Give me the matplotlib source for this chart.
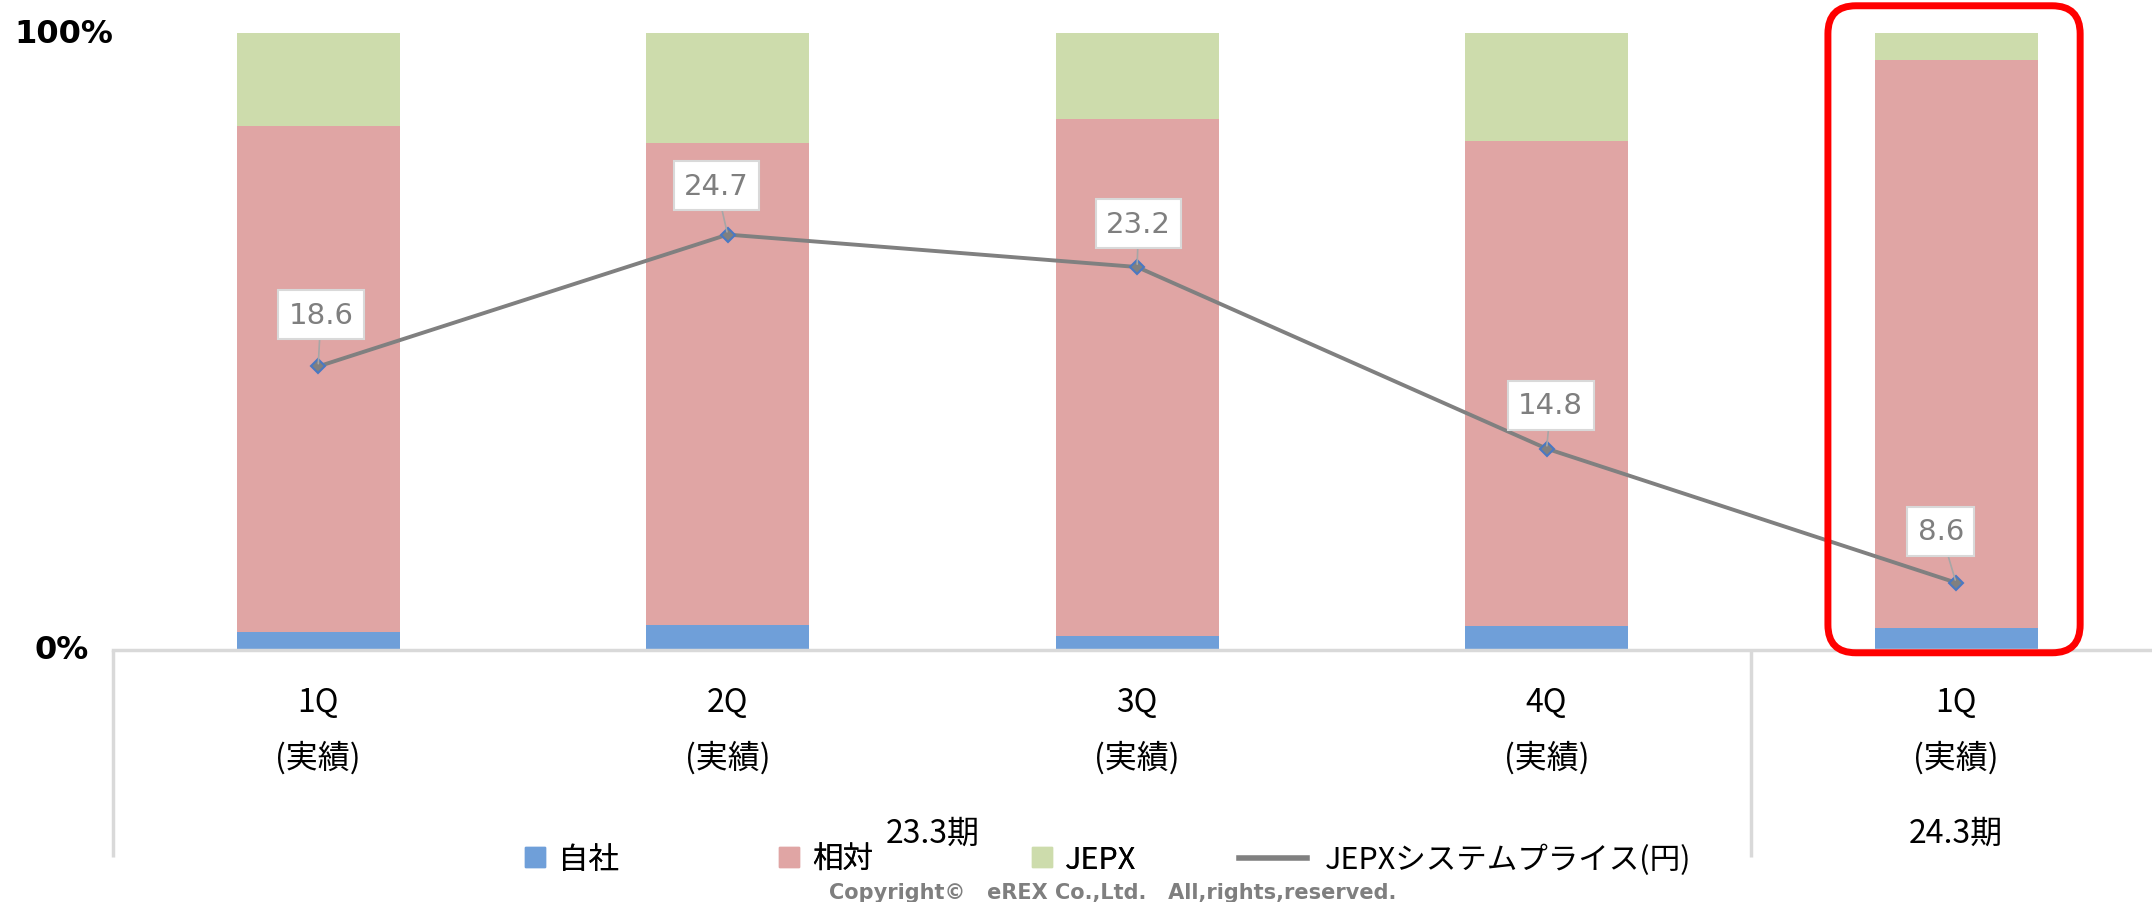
import matplotlib

matplotlib.use("Agg")
import matplotlib.pyplot as plt
import matplotlib.transforms as mtransforms
from matplotlib.lines import Line2D
from matplotlib.patches import FancyBboxPatch

plt.rcParams["font.family"] = ["Noto Sans CJK JP", "DejaVu Sans"]

# data
QUARTERS = ["1Q", "2Q", "3Q", "4Q", "1Q"]
RESULT_NOTE = ["(実績)", "(実績)", "(実績)", "(実績)", "(実績)"]
PERIODS = ["23.3期", "24.3期"]
PERIOD_SPANS = [(0, 3), (4, 4)]  # first / last quarter index of each period
SERIES_NAMES = ["自社", "相対", "JEPX"]
OWN = [0.029, 0.040, 0.022, 0.038, 0.036]
BILATERAL = [0.821, 0.783, 0.839, 0.788, 0.921]
JEPX = [0.150, 0.177, 0.139, 0.174, 0.043]
PRICE_NAME = "JEPXシステムプライス(円)"
JEPX_PRICE = [18.6, 24.7, 23.2, 14.8, 8.6]
Y_TICKS = [0.0, 1.0]
Y_LABELS = ["0%", "100%"]

# styling
COLORS = ["#6f9fd9", "#e0a5a4", "#cddcac"]
LINE_COLOR = "#808080"
AXIS_GRAY = "#d9d9d9"
LABEL_OFFSETS = [(2, 27), (-8, 25), (1, 21), (3, 21), (-11, 27)]  # points
Y_LABEL_PAD = [0.012, 0.0]  # axes fraction left of the axis

W, H, DPI = 2152, 903, 100
fig = plt.figure(figsize=(W / DPI, H / DPI), dpi=DPI)
ax = fig.add_axes([0.0527, 0.2794, 0.9514, 0.6824])

x = list(range(len(QUARTERS)))
bottom = [0.0] * len(x)
for vals, color, name in zip([OWN, BILATERAL, JEPX], COLORS, SERIES_NAMES):
  ax.bar(x, vals, width=0.398, bottom=bottom, color=color, label=name, zorder=2)
  bottom = [b0 + v for b0, v in zip(bottom, vals)]

ax.set_xlim(-0.5, 4.5)
ax.set_ylim(0, 1)
ax.set_xticks([])
ax.set_yticks([])
for s in ["top", "right", "left"]:
  ax.spines[s].set_visible(False)
ax.spines["bottom"].set_color(AXIS_GRAY)
ax.spines["bottom"].set_linewidth(2.5)

for yt, lab, pad in zip(Y_TICKS, Y_LABELS, Y_LABEL_PAD):
  ax.text(-pad, yt, lab, transform=ax.transAxes, ha="right", va="center",
          fontsize=23, fontweight="bold", family="DejaVu Sans")

# multi-level category axis
xtrans = mtransforms.blended_transform_factory(ax.transData, ax.transAxes)
for xi, q, note in zip(x, QUARTERS, RESULT_NOTE):
  ax.text(xi, -0.085, q, transform=xtrans, ha="center", va="center", fontsize=23)
  ax.text(xi, -0.174, note, transform=xtrans, ha="center", va="center", fontsize=23)
for name, (a, b) in zip(PERIODS, PERIOD_SPANS):
  ax.text((a + b) / 2, -0.2975, name, transform=xtrans, ha="center", va="center", fontsize=23)
  ax.plot([a - 0.5, a - 0.5], [0, -0.336], transform=xtrans, color=AXIS_GRAY,
          lw=2.5, clip_on=False, solid_capstyle="butt")

# price line on a hidden secondary axis
ax2 = ax.twinx()
ax2.set_ylim(5.5, 34.0)
ax2.axis("off")
ax2.plot(x, JEPX_PRICE, color=LINE_COLOR, lw=2.8, marker="D", markersize=7,
         markerfacecolor=LINE_COLOR, markeredgecolor="#4a78c2", markeredgewidth=1.5,
         label=PRICE_NAME, zorder=3)
for xi, v, off in zip(x, JEPX_PRICE, LABEL_OFFSETS):
  ax2.annotate(f"{v:.1f}", (xi, v), xytext=off, textcoords="offset points",
               ha="center", va="bottom", fontsize=21, color="#7f7f7f", family="DejaVu Sans",
               bbox=dict(boxstyle="square,pad=0.36", fc="white", ec=AXIS_GRAY, lw=1.5),
               arrowprops=dict(arrowstyle="-", color="#a6a6a6", lw=1.2, shrinkA=0, shrinkB=2))

# red highlight around the latest quarter
x0, y0 = ax.transData.transform((4 - 0.313, -0.005))
x1, y1 = ax.transData.transform((4 + 0.303, 1.045))
box = FancyBboxPatch((x0, y0), x1 - x0, y1 - y0, boxstyle="round,pad=0,rounding_size=28",
                     fc="none", ec="#ff0000", lw=5, transform=mtransforms.IdentityTransform(),
                     zorder=5)
fig.add_artist(box)

# legends
sq = [Line2D([], [], marker="s", linestyle="none", markersize=14, color=c) for c in COLORS]
leg1 = fig.legend(sq, SERIES_NAMES, loc="center", bbox_to_anchor=(0.386, 0.047), ncol=3,
                  frameon=False, fontsize=22, handlelength=0.7, handletextpad=0.4,
                  columnspacing=5.2)
line_h = Line2D([], [], color=LINE_COLOR, lw=4)
fig.legend([line_h], [PRICE_NAME], loc="center", bbox_to_anchor=(0.681, 0.047),
           frameon=False, fontsize=22, handlelength=2.2, handletextpad=0.6)
fig.add_artist(leg1)

fig.text(0.517, 0.011, "Copyright©   eREX Co.,Ltd.   All,rights,reserved.", ha="center",
         va="center", fontsize=15, fontweight="bold", color="#7f7f7f", family="DejaVu Sans")

fig.savefig("out.png", dpi=DPI)
